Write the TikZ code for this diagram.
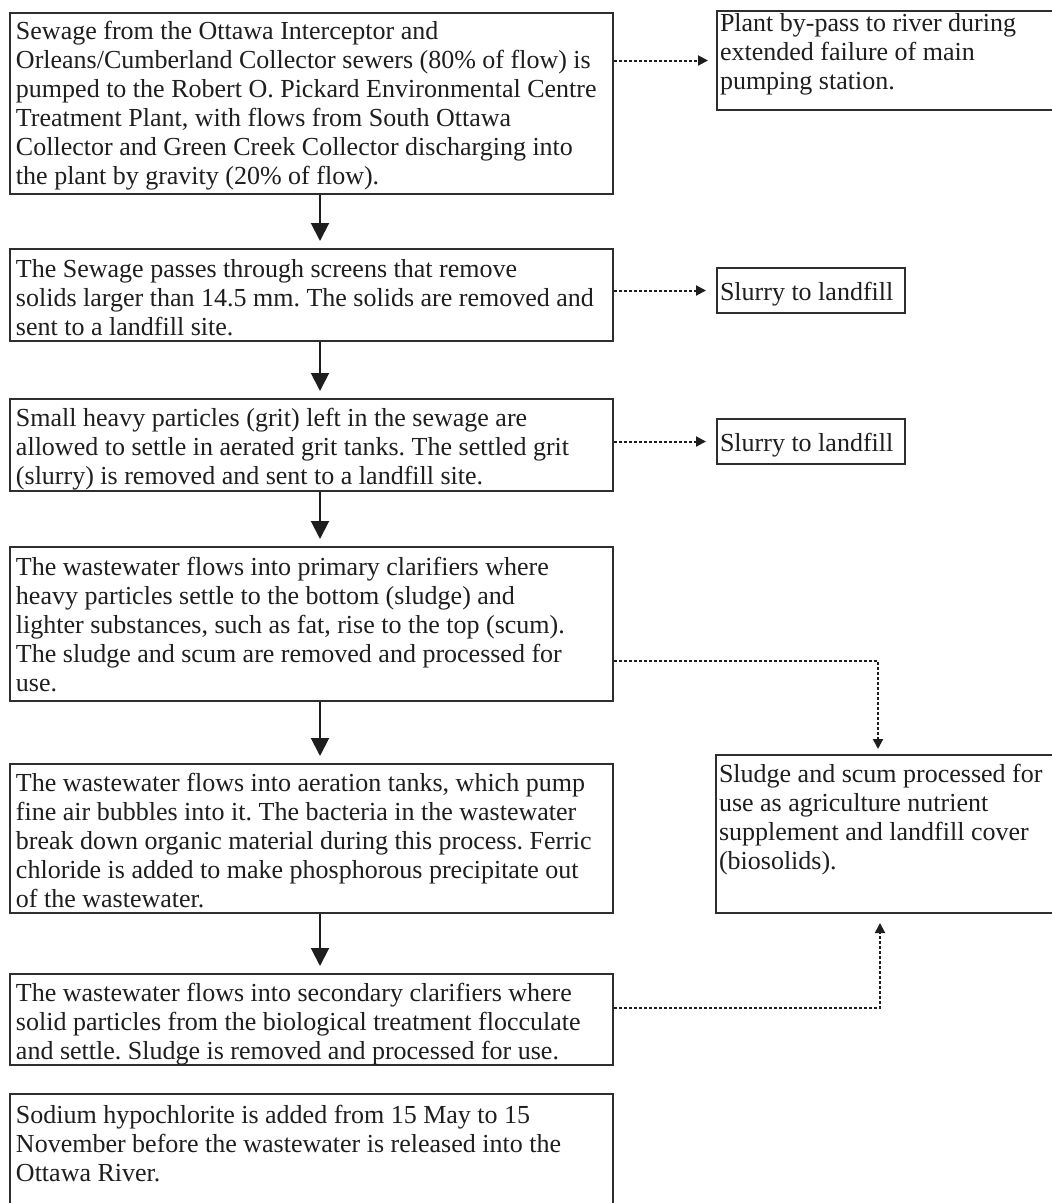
\documentclass[tikz,border=0pt]{standalone}
\usepackage{fontspec}
\setmainfont{Liberation Serif}
\usetikzlibrary{arrows.meta}
\definecolor{ink}{HTML}{1E1E1E}
\definecolor{edge}{HTML}{2E2E2E}
\frenchspacing
% Text block of fixed width and height, text hung from the top.
% #1 height, #2 width, #3 first-baseline depth, #4 text
\newcommand{\cellbox}[4]{\parbox[c][#1][t]{#2}{\raggedright\rule{0pt}{#3}#4}}
\begin{document}
\begin{tikzpicture}[x=1pt,y=-1pt,
  font=\fontsize{26pt}{29pt}\selectfont,
  stage/.style={draw=edge,line width=2pt,rectangle,anchor=north west,
    inner xsep=6pt,inner ysep=0pt,text=ink},
  aside/.style={stage,inner xsep=3pt},
  flow/.style={draw=ink,line width=2pt,-{Triangle[width=18pt,length=18pt]},shorten >=7pt},
  side/.style={draw=ink,line width=2pt,dash pattern=on 3pt off 2pt,
    -{Triangle[width=10pt,length=10pt]}}]
\clip (0,0) rectangle (1052,1203);
\useasboundingbox (0,0) rectangle (1052,1203);
\fill[white] (0,0) rectangle (1052,1203);

% main process column
\node[stage] (intake) at (9,12) {\cellbox{181pt}{591pt}{26pt}{%
Sewage from the Ottawa Interceptor and\\
Orleans/Cumberland Collector sewers (80\% of flow) is\\
pumped to the Robert O. Pickard Environmental Centre\\
Treatment Plant, with flows from South Ottawa\\
Collector and Green Creek Collector discharging into\\
the plant by gravity (20\% of flow).}};

\node[stage] (screens) at (9,248) {\cellbox{92pt}{591pt}{28pt}{%
The Sewage passes through screens that remove\\
solids larger than 14.5 mm. The solids are removed and\\
sent to a landfill site.}};

\node[stage] (grit) at (9,398) {\cellbox{92pt}{591pt}{27pt}{%
Small heavy particles (grit) left in the sewage are\\
allowed to settle in aerated grit tanks. The settled grit\\
(slurry) is removed and sent to a landfill site.}};

\node[stage] (primary) at (9,546) {\cellbox{154pt}{591pt}{28pt}{%
The wastewater flows into primary clarifiers where\\
heavy particles settle to the bottom (sludge) and\\
lighter substances, such as fat, rise to the top (scum).\\
The sludge and scum are removed and processed for\\
use.}};

\node[stage] (aeration) at (9,763) {\cellbox{149pt}{591pt}{27pt}{%
The wastewater flows into aeration tanks, which pump\\
fine air bubbles into it. The bacteria in the wastewater\\
break down organic material during this process. Ferric\\
chloride is added to make phosphorous precipitate out\\
of the wastewater.}};

\node[stage] (secondary) at (9,973) {\cellbox{91pt}{591pt}{27pt}{%
The wastewater flows into secondary clarifiers where\\
solid particles from the biological treatment flocculate\\
and settle. Sludge is removed and processed for use.}};

\node[stage] (chlorine) at (9,1093) {\cellbox{120pt}{591pt}{29pt}{%
Sodium hypochlorite is added from 15 May to 15\\
November before the wastewater is released into the\\
Ottawa River.}};

% side outputs
\node[aside] (bypass) at (716,10) {\cellbox{99pt}{394pt}{20pt}{%
Plant by-pass to river during\\
extended failure of main\\
pumping station.}};

\node[aside] (slurryA) at (716,267) {\cellbox{45pt}{182pt}{32pt}{Slurry to landfill}};
\node[aside] (slurryB) at (716,418) {\cellbox{45pt}{182pt}{32pt}{Slurry to landfill}};

\node[aside] (biosolids) at (715,754) {\cellbox{158pt}{394pt}{27pt}{%
Sludge and scum processed for\\
use as agriculture nutrient\\
supplement and landfill cover\\
(biosolids).}};

% connectors
\coordinate (spine) at (320,0);
\coordinate (sludgeA) at (878,661);
\coordinate (sludgeB) at (880,1008);

\draw[flow] (intake.south -| spine) -- (screens.north -| spine);
\draw[flow] (screens.south -| spine) -- (grit.north -| spine);
\draw[flow] (grit.south -| spine) -- (primary.north -| spine);
\draw[flow] (primary.south -| spine) -- (aeration.north -| spine);
\draw[flow] (aeration.south -| spine) -- (secondary.north -| spine);

\draw[side,shorten >=8pt] (intake.east |- bypass.west) -- (bypass.west);
\draw[side,shorten >=10pt] (screens.east |- slurryA.west) -- (slurryA.west);
\draw[side,shorten >=10pt] (grit.east |- slurryB.west) -- (slurryB.west);
\draw[side,shorten >=5pt] (primary.east |- sludgeA) -| (biosolids.north -| sludgeA);
\draw[side,shorten >=9pt] (secondary.east |- sludgeB) -| (biosolids.south -| sludgeB);
\end{tikzpicture}
\end{document}
